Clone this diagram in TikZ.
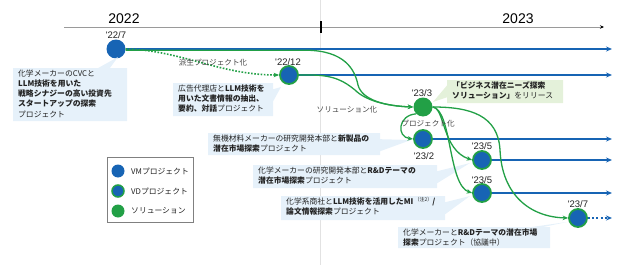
\documentclass[tikz,border=0pt]{standalone}
\usepackage{fontspec}
\setmainfont{Noto Sans CJK JP}
\newfontfamily\latf{Liberation Sans}
\usetikzlibrary{arrows.meta,shapes.callouts,calc}
\definecolor{vmblue}{HTML}{1764B4}
\definecolor{sgreen}{HTML}{22A046}
\definecolor{boxblue}{HTML}{E6F1FA}
\definecolor{boxgreen}{HTML}{E4F1DA}
\definecolor{txt}{HTML}{222222}
\definecolor{axisgray}{HTML}{9A9A9A}
\definecolor{vgray}{HTML}{E2E2E2}
\begin{document}
\begin{tikzpicture}[x=1pt,y=-1pt,
  vmnode/.style={circle, fill=vmblue, minimum size=19pt, inner sep=0pt},
  vdnode/.style={circle, fill=vmblue, draw=sgreen, line width=1.8pt, minimum size=18pt, inner sep=0pt},
  solnode/.style={circle, fill=sgreen, minimum size=19pt, inner sep=0pt},
  bluearrow/.style={draw=vmblue, line width=1.9pt, -{Stealth[length=6pt,width=5pt]}},
  greenarrow/.style={draw=sgreen, line width=1.3pt, -{Stealth[length=5.5pt,width=4.5pt]}},
  datelbl/.style={font=\latf\fontsize{9.5}{10}\selectfont, text=txt, inner sep=0pt},
  yearlbl/.style={font=\latf\fontsize{14}{14}\selectfont, text=black, inner sep=0pt},
  smalllbl/.style={font=\fontsize{7.6}{9}\selectfont, text=txt!85, inner sep=0pt},
  infobox/.style={rectangle callout, fill=boxblue, callout pointer width=12pt, inner sep=0pt, anchor=north west},
  solbox/.style={rectangle callout, fill=boxgreen, callout pointer width=12pt, inner sep=0pt, anchor=north west},
  bodytext/.style={anchor=north west, align=left, inner xsep=5pt, inner ysep=1.5pt, font=\fontsize{7.8}{10.2}\selectfont, text=txt},
  legtext/.style={anchor=west, inner sep=0pt, font=\fontsize{7.8}{9}\selectfont, text=txt}
]
\useasboundingbox (0,0) rectangle (624,265);

% background vertical divider and time axis
\coordinate (vtop) at (320,0);
\coordinate (vbot) at (320,265);
\draw[vgray, line width=0.8pt] (vtop) -- (vbot);
\coordinate (axs) at (64,27);
\coordinate (axe) at (604,27);
\draw[axisgray, line width=0.8pt, -{Stealth[length=4pt,width=3.5pt,color=black]}] (axs) -- (axe);
\coordinate (tkt) at (321,21);
\coordinate (tkb) at (321,33);
\draw[black, line width=1.5pt] (tkt) -- (tkb);
\node[yearlbl] (y22) at (124,19) {2022};
\node[yearlbl] (y23) at (518,19) {2023};

% nodes
\node[vmnode] (n1) at (116,49) {};
\node[vdnode] (n2) at (289,75) {};
\node[solnode] (n3) at (423,107) {};
\node[vdnode] (n4) at (423,139) {};
\node[vdnode] (n5) at (482,160) {};
\node[vdnode] (n6) at (482,193) {};
\node[vdnode] (n7) at (578,218) {};

% arrow end points
\coordinate (e1) at (612,49);
\coordinate (e2) at (612,75);
\coordinate (e4) at (612,139);
\coordinate (e5) at (612,160);
\coordinate (e6) at (612,193);
\coordinate (e7) at (612,218);

% info boxes (drawn under the connectors)
\node[infobox, minimum width=114pt, minimum height=53pt, callout absolute pointer={(118,57)}] (tb1) at (13,68) {};
\node[bodytext] (tb1t) at (tb1.north west) {化学メーカーのCVCと\\\textbf{LLM技術を用いた}\\\textbf{戦略シナジーの高い投資先}\\\textbf{スタートアップの探索}\\プロジェクト};

\node[infobox, minimum width=100pt, minimum height=33pt, callout absolute pointer={(281,87)}] (tb2) at (173,83) {};
\node[bodytext] (tb2t) at (tb2.north west) {広告代理店と\textbf{LLM技術を}\\\textbf{用いた文書情報の抽出、}\\\textbf{要約、対話}プロジェクト};

\node[infobox, minimum width=172pt, minimum height=22pt, callout absolute pointer={(411,140)}] (tb3) at (208,133) {};
\node[bodytext] (tb3t) at (tb3.north west) {無機材料メーカーの研究開発本部と\textbf{新製品の}\\\textbf{潜在市場探索}プロジェクト};

\node[infobox, minimum width=184pt, minimum height=23pt, callout absolute pointer={(470,163)}] (tb4) at (253,165) {};
\node[bodytext] (tb4t) at (tb4.north west) {化学メーカーの研究開発本部と\textbf{R\&Dテーマの}\\\textbf{潜在市場探索}プロジェクト};

\node[infobox, minimum width=164pt, minimum height=24pt, callout absolute pointer={(470,196)}] (tb5) at (281,196) {};
\node[bodytext] (tb5t) at (tb5.north west) {化学系商社と\textbf{LLM技術を活用したMI}\,\raisebox{2.5pt}{\fontsize{5}{5}\selectfont（注2）}\textbf{/}\\\textbf{論文情報探索}プロジェクト};

\node[infobox, minimum width=152pt, minimum height=21pt, callout absolute pointer={(567,222)}] (tb6) at (398,227) {};
\node[bodytext] (tb6t) at (tb6.north west) {化学メーカーと\textbf{R\&Dテーマの潜在市場}\\\textbf{探索}プロジェクト（協議中）};

\node[solbox, minimum width=116pt, minimum height=23pt, callout absolute pointer={(433,102)}] (tbg) at (447,80) {};
\node[bodytext] (tbgt) at (tbg.north west) {\textbf{「ビジネス潜在ニーズ探索}\\\textbf{ソリューション」}をリリース};

% blue timelines
\draw[bluearrow] (n1.east) -- (e1);
\draw[bluearrow] (n2.east) -- (e2);
\draw[bluearrow] (n4.east) -- (e4);
\draw[bluearrow] (n5.east) -- (e5);
\draw[bluearrow] (n6.east) -- (e6);
\draw[bluearrow, dash pattern=on 2pt off 2.2pt] (n7.east) -- (e7);

% green connectors
\draw[greenarrow, line width=1.6pt, dash pattern=on 1.6pt off 1.6pt] (n1.east) .. controls (180,50) and (220,75) .. (n2.west);
\draw[greenarrow] ($(n1.east)+(0,1.2)$) -- (305,50.2) .. controls (345,50.2) and (355,70) .. (358,85) .. controls (362,100) and (385,106) .. (n3.west);
\draw[greenarrow] (n2.east) -- (310,75) .. controls (335,75) and (345,82) .. (355,90) .. controls (365,100) and (385,106) .. (n3.west);
\draw[greenarrow] (n3.south west) .. controls (398,115) and (396,137) .. (n4.west);
\draw[greenarrow] (n3.east) .. controls (445,108) and (442,150) .. (n5.west);
\draw[greenarrow] (n3.east) .. controls (452,110) and (448,185) .. (n6.west);
\draw[greenarrow] (n3.east) .. controls (470,107) and (498,115) .. (500,150) .. controls (502,195) and (530,217) .. (n7.west);

% connector labels
\node[smalllbl] (lb1) at (213,63) {派生プロジェクト化};
\node[smalllbl] (lb2) at (347,110) {ソリューション化};
\node[smalllbl] (lb3) at (428,124) {プロジェクト化};

% dates
\node[datelbl] (d1) at (116,35) {'22/7};
\node[datelbl] (d2) at (288,62) {'22/12};
\node[datelbl] (d3) at (422,93) {'23/3};
\node[datelbl] (d4) at (424,156) {'23/2};
\node[datelbl] (d5) at (482,146) {'23/5};
\node[datelbl] (d6) at (482,180) {'23/5};
\node[datelbl] (d7) at (578,204) {'23/7};

% legend
\node[draw=gray, line width=1pt, minimum width=86pt, minimum height=65pt, anchor=north west, inner sep=0pt] (leg) at (107,157) {};
\node[vmnode, minimum size=13pt] (l1) at (118,171) {};
\node[vdnode, minimum size=12pt, line width=1.5pt] (l2) at (118,191) {};
\node[solnode, minimum size=13pt] (l3) at (118,211) {};
\node[legtext] (l1t) at (131,171) {VMプロジェクト};
\node[legtext] (l2t) at (131,191) {VDプロジェクト};
\node[legtext] (l3t) at (131,211) {ソリューション};
\end{tikzpicture}
\end{document}
